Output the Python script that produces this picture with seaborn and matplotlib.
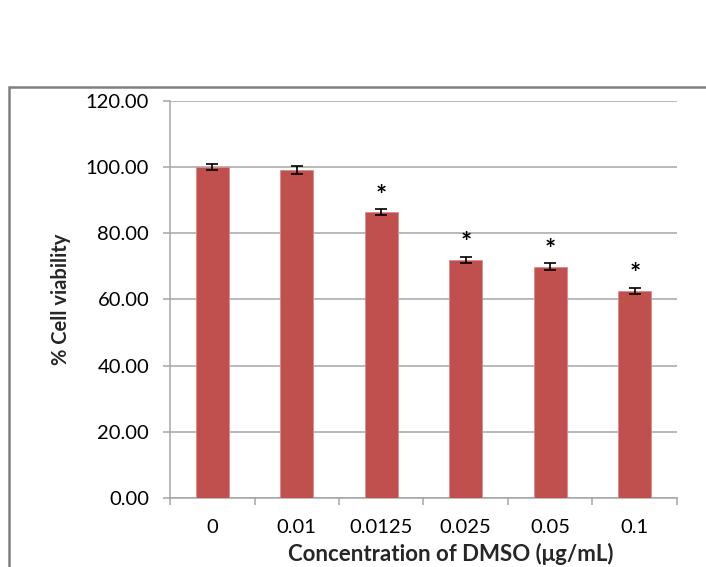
import matplotlib
matplotlib.use("Agg")
import matplotlib.pyplot as plt
import seaborn as sns
import pandas as pd
from matplotlib.patches import Rectangle
from matplotlib.ticker import FixedLocator

categories = ["0", "0.01", "0.0125", "0.025", "0.05", "0.1"]
viability = [100.0, 99.1, 86.4, 71.9, 69.9, 62.6]
sd = [1.0, 1.2, 0.9, 1.0, 1.0, 1.0]
significant = [False, False, True, True, True, True]
yticks = [0, 20, 40, 60, 80, 100, 120]

sns.set_theme(style="white")
plt.rcParams["font.family"] = ["Lato", "DejaVu Sans"]

df = pd.DataFrame({"conc": categories, "viab": viability})

fig = plt.figure(figsize=(7.06, 5.67), dpi=100)
ax = fig.add_axes([0.2408, 0.1217, 0.7181, 0.7002])

sns.barplot(data=df, x="conc", y="viab", order=categories, color="#C0504D",
            saturation=1, width=0.39, errorbar=None, ax=ax,
            edgecolor="#D98C8A", linewidth=0.6, zorder=3)

xs = list(range(len(categories)))
ax.errorbar(xs, viability, yerr=sd, fmt="none", ecolor="black",
            elinewidth=1.2, capsize=4, capthick=1.2, zorder=4)

for x, v, e, s in zip(xs, viability, sd, significant):
    if s:
        ax.annotate("*", xy=(x, v + e), xytext=(0, 1), textcoords="offset points",
                    ha="center", va="bottom", fontsize=19, fontweight="bold",
                    color="black")

ax.set_xlim(-0.5, len(categories) - 0.5)
ax.set_ylim(0, 120)
ax.set_yticks(yticks)
ax.set_yticklabels([f"{t:.2f}" for t in yticks])
ax.yaxis.grid(True, color="#A6A6A6", linewidth=1.1, zorder=0)
ax.set_axisbelow(True)

for side in ["top", "right"]:
    ax.spines[side].set_visible(False)
for side in ["left", "bottom"]:
    ax.spines[side].set_color("#A6A6A6")
    ax.spines[side].set_linewidth(1.1)

ax.tick_params(axis="y", which="major", left=True, length=5, width=1.1,
               color="#A6A6A6", pad=10, labelsize=14.5, labelcolor="black")
ax.tick_params(axis="x", which="major", bottom=True, length=0, pad=15,
               labelsize=14.5, labelcolor="black")
ax.xaxis.set_minor_locator(FixedLocator([i - 0.5 for i in range(len(categories) + 1)]))
ax.tick_params(axis="x", which="minor", bottom=True, length=5, width=1.1,
               color="#A6A6A6")

ax.set_xlabel("Concentration of DMSO (μg/mL)", fontsize=16, fontweight="bold")
ax.xaxis.set_label_coords(0.554, -0.113)
ax.xaxis.label.set_verticalalignment("top")
ax.set_ylabel("% Cell viability", fontsize=14.5, fontweight="bold", labelpad=11)

fig.patches.append(Rectangle((0.0127, -0.05), 1.1, 0.8966, transform=fig.transFigure,
                             fill=False, edgecolor="#808080", linewidth=1.8))

fig.savefig("out.png", dpi=100)
